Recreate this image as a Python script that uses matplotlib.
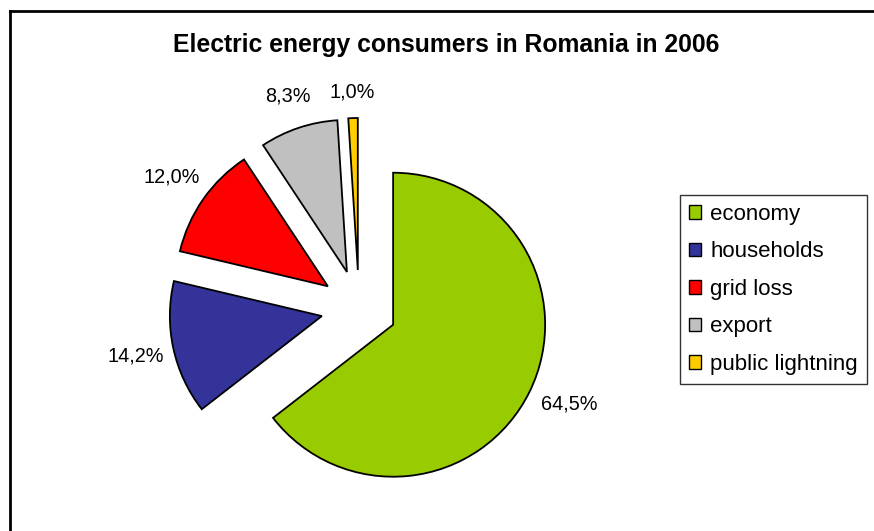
import numpy as np
import matplotlib.pyplot as plt
from matplotlib.lines import Line2D
from matplotlib.patches import Patch

categories = ["economy", "households", "grid loss", "export", "public lightning"]
shares = [64.5, 14.2, 12.0, 8.3, 1.0]
colors = ["#99CC00", "#333399", "#FF0000", "#C0C0C0", "#FFCC00"]

plt.rcParams["font.family"] = ["Liberation Sans", "DejaVu Sans"]

W, H = 874, 531
fig = plt.figure(figsize=(W / 100, H / 100), dpi=100)

# pie centre in pixels, radius in pixels
cx, cy, r = 359, H - 308, 152
ax = fig.add_axes([0, 0, 1, 1])
wedges, texts, autotexts = ax.pie(
    shares, colors=colors, startangle=90, counterclock=False,
    explode=[0.25] * len(shares),
    autopct=lambda p: f"{p:.1f}".replace(".", ",") + "%",
    pctdistance=1.25,
    wedgeprops=dict(edgecolor="black", linewidth=1.3),
    textprops=dict(fontsize=14.3, color="black"),
)
# push each percentage label out a little like Excel does
label_dist = [1.27, 1.25, 1.25, 1.22, 1.17]
label_shift = [2, 0, 0, 0, 0]  # degrees, small angular nudge
for w, t, d, s in zip(wedges, autotexts, label_dist, label_shift):
    ang = np.deg2rad((w.theta1 + w.theta2) / 2 + s)
    t.set_position((w.center[0] + d * np.cos(ang), w.center[1] + d * np.sin(ang)))
ax.set_xlim(-cx / r, (W - cx) / r)
ax.set_ylim(-cy / r, (H - cy) / r)
ax.set_aspect("equal")
ax.axis("off")

fig.text(446 / W, 1 - 45 / H, "Electric energy consumers in Romania in 2006",
         ha="center", va="center", fontsize=17.8, fontweight="bold")

handles = [Patch(facecolor=c, edgecolor="black", linewidth=1) for c in colors]
leg = fig.legend(handles, categories, loc="upper left",
                 bbox_to_anchor=(680 / W, 1 - 195 / H),
                 fontsize=16, frameon=True, fancybox=False,
                 edgecolor="black", labelspacing=0.74,
                 handlelength=0.55, handleheight=0.55, handletextpad=0.4,
                 borderpad=0.4, borderaxespad=0)
leg.get_frame().set_linewidth(1)

# outer frame (left and top edges visible)
fig.add_artist(Line2D([10 / W, 10 / W], [0, 1 - 11 / H], color="black", lw=2))
fig.add_artist(Line2D([10 / W, 1], [1 - 11 / H, 1 - 11 / H], color="black", lw=2))

fig.savefig("out.png", dpi=100)
